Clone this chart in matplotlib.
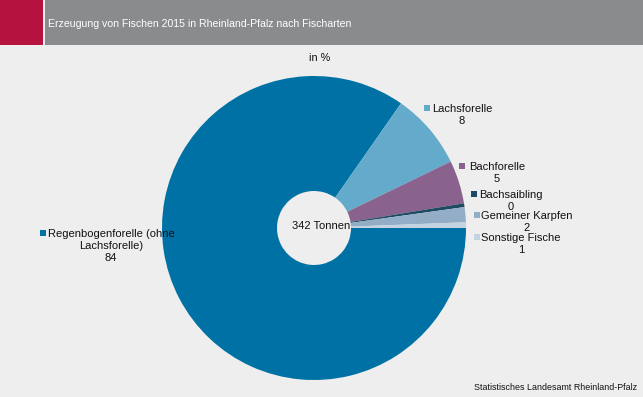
import matplotlib
matplotlib.use('Agg')
import matplotlib.pyplot as plt
from matplotlib.patches import Rectangle
from matplotlib import font_manager

# data (share in %)
kinds = ['Regenbogenforelle (ohne\nLachsforelle)', 'Lachsforelle', 'Bachforelle',
         'Bachsaibling', 'Gemeiner Karpfen', 'Sonstige Fische']
shares = [84.7, 8.1, 4.6, 0.4, 1.6, 0.6]
shown = ['84', '8', '5', '0', '2', '1']
colors = ['#0071a4', '#64abcb', '#8a628e', '#1e4a64', '#94adc6', '#c4d2e1']
total_text = '342 Tonnen'

names = [f.name for f in font_manager.fontManager.ttflist]
narrow = 'Liberation Sans Narrow' if 'Liberation Sans Narrow' in names else 'Liberation Sans'
plt.rcParams['font.family'] = ['Liberation Sans', 'DejaVu Sans']

W, H = 643, 397
bg = '#edeeed'
fig = plt.figure(figsize=(W / 100, H / 100), dpi=100, facecolor=bg)

def fx(px):
    return px / W

def fy(py):
    return 1 - py / H

# header band
fig.add_artist(Rectangle((0, fy(45)), fx(43), 45 / H, transform=fig.transFigure,
                         facecolor='#b5123f', edgecolor='none'))
fig.add_artist(Rectangle((fx(45), fy(45)), 1 - fx(45), 45 / H, transform=fig.transFigure,
                         facecolor='#8a8b8d', edgecolor='none'))
fig.text(fx(48), fy(24), 'Erzeugung von Fischen 2015 in Rheinland-Pfalz nach Fischarten',
         color='white', fontsize=7.6, family=narrow, va='center', ha='left')
fig.text(fx(320), fy(58), 'in %', fontsize=7.8, ha='center', va='center', color='#111111')

# donut
cx, cy, r = 314, 228, 152
ax = fig.add_axes([fx(cx - r), fy(cy + r), 2 * r / W, 2 * r / H])
ax.pie(shares, colors=colors, startangle=0, counterclock=False, radius=1,
       wedgeprops=dict(width=1 - 37 / r, edgecolor='none'))
ax.set_aspect('equal')
ax.set_xlim(-1, 1)
ax.set_ylim(-1, 1)
ax.axis('off')
ax.text(7 / r, 0.01, total_text, ha='center', va='center', fontsize=8, color='#111111')

# labels: (marker x, marker y, text centre x) in pixels
label_pos = [(43, 233, 111), (427, 108, 462), (462, 166, 497),
             (474, 194, 511), (477, 215, 527), (477, 237, 521)]
for (mx, my, tx), name, val, c in zip(label_pos, kinds, shown, colors):
    fig.add_artist(Rectangle((fx(mx - 3), fy(my + 3)), 6 / W, 6 / H,
                             transform=fig.transFigure, facecolor=c, edgecolor='none'))
    fig.text(fx(tx), fy(my - 4), name + '\n' + val, ha='center', va='top',
             fontsize=8, color='#111111', linespacing=1.28)

fig.text(fx(637), fy(387), 'Statistisches Landesamt Rheinland-Pfalz', ha='right',
         va='center', fontsize=6.4, family=narrow, color='#111111')

fig.savefig('out.png', dpi=100, facecolor=bg)
